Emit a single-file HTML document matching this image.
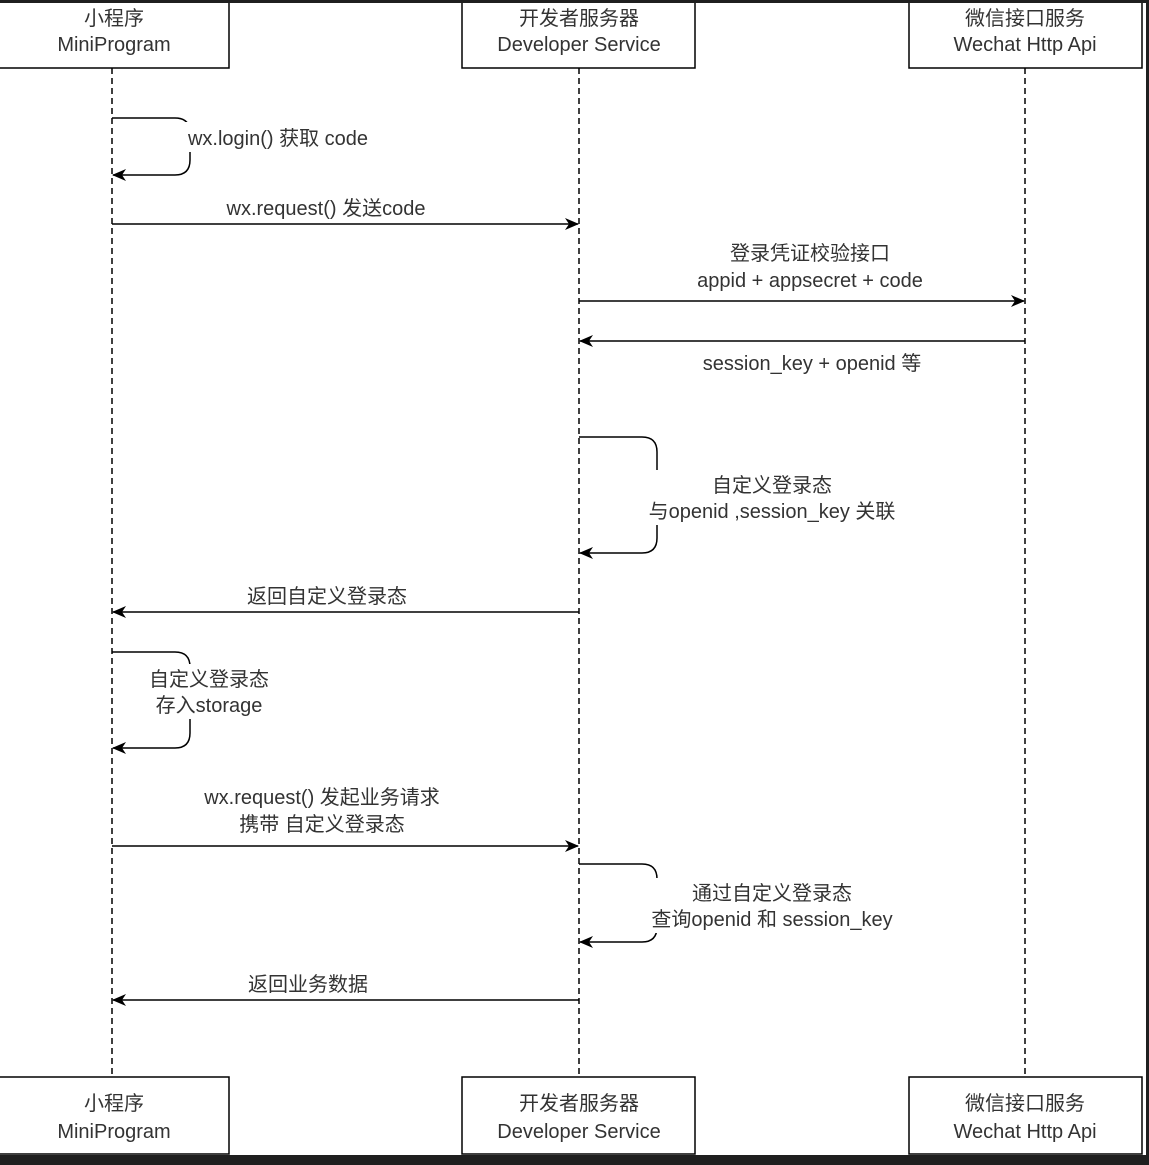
<!DOCTYPE html>
<html><head><meta charset="utf-8"><style>
html,body{margin:0;padding:0;background:#1f1f1f;}
svg{display:block;}
text{font-family:"Liberation Sans","Noto Sans CJK SC",sans-serif;font-size:20px;fill:#333;text-anchor:middle;}
</style></head><body>
<svg width="1149" height="1165" viewBox="0 0 1149 1165" xmlns="http://www.w3.org/2000/svg">
<defs><marker id="a" markerWidth="14" markerHeight="12" refX="13" refY="6" orient="auto" markerUnits="userSpaceOnUse"><path d="M0,0 L14,6 L0,12 L4,6 Z" fill="#000"/></marker></defs>
<rect x="0" y="3" width="1146" height="1152" fill="#fff"/>
<g stroke="#000" stroke-width="1.5" stroke-dasharray="6,4" fill="none">
<line x1="112" y1="68" x2="112" y2="1077"/><line x1="579" y1="68" x2="579" y2="1077"/><line x1="1025" y1="68" x2="1025" y2="1077"/>
</g>
<g stroke="#000" stroke-width="1.5" fill="#fff">
<rect x="-1" y="0" width="230" height="68"/><rect x="462" y="0" width="233" height="68"/><rect x="909" y="0" width="233" height="68"/>
<rect x="-1" y="1077" width="230" height="77"/><rect x="462" y="1077" width="233" height="77"/><rect x="909" y="1077" width="233" height="77"/>
</g>
<rect x="0" y="0" width="1149" height="3" fill="#1f1f1f"/>
<g stroke="#000" stroke-width="1.5" fill="none" marker-end="url(#a)">
<path d="M112,118 H175 Q190,118 190,133 V160 Q190,175 175,175 H113"/>
<line x1="112" y1="224" x2="578" y2="224"/>
<line x1="579" y1="301" x2="1024" y2="301"/>
<line x1="1025" y1="341" x2="580" y2="341"/>
<path d="M579,437 H642 Q657,437 657,452 V538 Q657,553 642,553 H580"/>
<line x1="579" y1="612" x2="113" y2="612"/>
<path d="M112,652 H175 Q190,652 190,667 V733 Q190,748 175,748 H113"/>
<line x1="112" y1="846" x2="578" y2="846"/>
<path d="M579,864 H642 Q657,864 657,879 V927 Q657,942 642,942 H580"/>
<line x1="579" y1="1000" x2="113" y2="1000"/>
</g>
<g>
<text x="114" y="25">小程序</text><text x="114" y="51">MiniProgram</text>
<text x="579" y="25">开发者服务器</text><text x="579" y="51">Developer Service</text>
<text x="1025" y="25">微信接口服务</text><text x="1025" y="51">Wechat Http Api</text>
<text x="114" y="1110">小程序</text><text x="114" y="1138">MiniProgram</text>
<text x="579" y="1110">开发者服务器</text><text x="579" y="1138">Developer Service</text>
<text x="1025" y="1110">微信接口服务</text><text x="1025" y="1138">Wechat Http Api</text>
<rect x="172" y="122" width="214" height="30" fill="#fff"/>
<text x="278" y="145">wx.login() 获取 code</text>
<text x="326" y="215">wx.request() 发送code</text>
<text x="810" y="260">登录凭证校验接口</text><text x="810" y="287">appid + appsecret + code</text>
<text x="812" y="370">session_key + openid 等</text>
<rect x="627" y="470" width="292" height="55" fill="#fff"/>
<text x="772" y="492">自定义登录态</text><text x="772" y="518">与openid ,session_key 关联</text>
<text x="327" y="603">返回自定义登录态</text>
<rect x="137" y="664" width="144" height="55" fill="#fff"/>
<text x="209" y="686">自定义登录态</text><text x="209" y="712">存入storage</text>
<text x="322" y="804">wx.request() 发起业务请求</text><text x="322" y="831">携带 自定义登录态</text>
<rect x="631" y="878" width="284" height="55" fill="#fff"/>
<text x="772" y="900">通过自定义登录态</text><text x="772" y="926">查询openid 和 session_key</text>
<text x="308" y="991">返回业务数据</text>
</g>
</svg>
</body></html>
